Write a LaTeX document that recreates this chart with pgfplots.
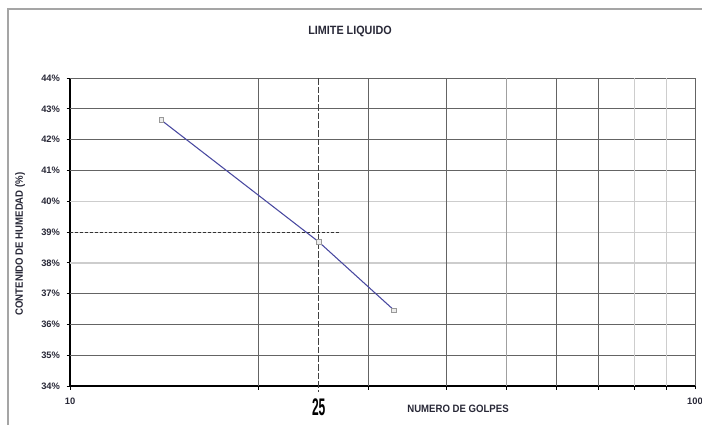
\documentclass[border=0pt]{standalone}
\usepackage{fontspec}
\setmainfont{Liberation Sans}
\newfontfamily\narrow[FakeStretch=0.9]{Liberation Sans}
\newfontfamily\tall[FakeStretch=0.5]{Liberation Sans}
\usepackage{pgfplots}
\pgfplotsset{compat=1.18}

\definecolor{lineblue}{RGB}{72,72,160}
\definecolor{gridD}{RGB}{100,100,100}
\definecolor{gridM}{RGB}{160,160,160}
\definecolor{gridL}{RGB}{205,205,205}
\definecolor{frameG}{RGB}{165,165,165}
\definecolor{txt}{RGB}{40,40,55}

\begin{document}
\begin{tikzpicture}[x=0.75pt,y=0.75pt]
\useasboundingbox (0,0) rectangle (702,425);
% chart area border
\draw[frameG, line width=1.5pt] (8,0) -- (8,416) -- (702,416);
\begin{axis}[
  at={(52.5pt,29.25pt)}, anchor=south west,
  scale only axis, width=468.75pt, height=231pt,
  xmode=log, xmin=10, xmax=100, ymin=34, ymax=44,
  axis x line*=bottom, axis y line*=left,
  axis line style={black, line width=1.1pt},
  xtick={10,100}, xticklabels={10,100}, minor xtick={},
  ytick={34,35,...,44},
  yticklabels={34\%,35\%,36\%,37\%,38\%,39\%,40\%,41\%,42\%,43\%,44\%},
  tick align=outside, major tick length=2.5pt,
  tick style={black, line width=0.6pt},
  ticklabel style={font=\bfseries\fontsize{7}{7}\selectfont, text=txt},
  yticklabel style={xshift=-1.5pt},
  xticklabel style={yshift=-3pt},
  clip=false,
]
% horizontal grid
\pgfplotsinvokeforeach{35,36,37,41,42,43,44}{
  \draw[gridD, line width=0.5pt] (axis cs:10,#1) -- (axis cs:100,#1);}
\pgfplotsinvokeforeach{39,40}{
  \draw[gridL, line width=0.6pt] (axis cs:10,#1) -- (axis cs:100,#1);}
\draw[gridL, line width=1.2pt] (axis cs:10,38) -- (axis cs:100,38);
% vertical grid
\pgfplotsinvokeforeach{20,30,40,60,70,100}{
  \draw[gridD, line width=0.5pt] (axis cs:#1,34) -- (axis cs:#1,44);}
\draw[gridM, line width=0.6pt] (axis cs:50,34) -- (axis cs:50,44);
\draw[gridL, line width=1.4pt] (axis cs:80,34) -- (axis cs:80,44);
\draw[gridL, line width=0.8pt] (axis cs:90,34) -- (axis cs:90,44);
% liquid limit at 25 blows
\draw[black!75, line width=0.6pt, dash pattern=on 5pt off 1.5pt]
  (axis cs:25,44) -- ([yshift=-4.5pt]axis cs:25,34);
\draw[black!80, line width=0.6pt, dash pattern=on 2.2pt off 1.5pt]
  (axis cs:10,39) -- (axis cs:27,39);
\addplot[lineblue, line width=0.8pt, mark=square*, mark size=1.8pt,
  mark options={solid, fill=gray!15, draw=gray!80, line width=0.5pt}]
  coordinates {(14,42.63) (25,38.68) (33,36.46)};
\node[font=\tall\bfseries\fontsize{18}{18}\selectfont, anchor=north, inner sep=0pt]
  at ([yshift=-9pt]axis cs:25,34) {25};
\end{axis}
\node[font=\narrow\bfseries\fontsize{9}{9}\selectfont, text=txt] at (350,394) {LIMITE LIQUIDO};
\node[font=\narrow\bfseries\fontsize{8}{8}\selectfont, text=txt] at (458,16) {NUMERO DE GOLPES};
\node[rotate=90, font=\narrow\bfseries\fontsize{8}{8}\selectfont, text=txt] at (20,181) {CONTENIDO DE HUMEDAD (\%)};
\end{tikzpicture}
\end{document}
